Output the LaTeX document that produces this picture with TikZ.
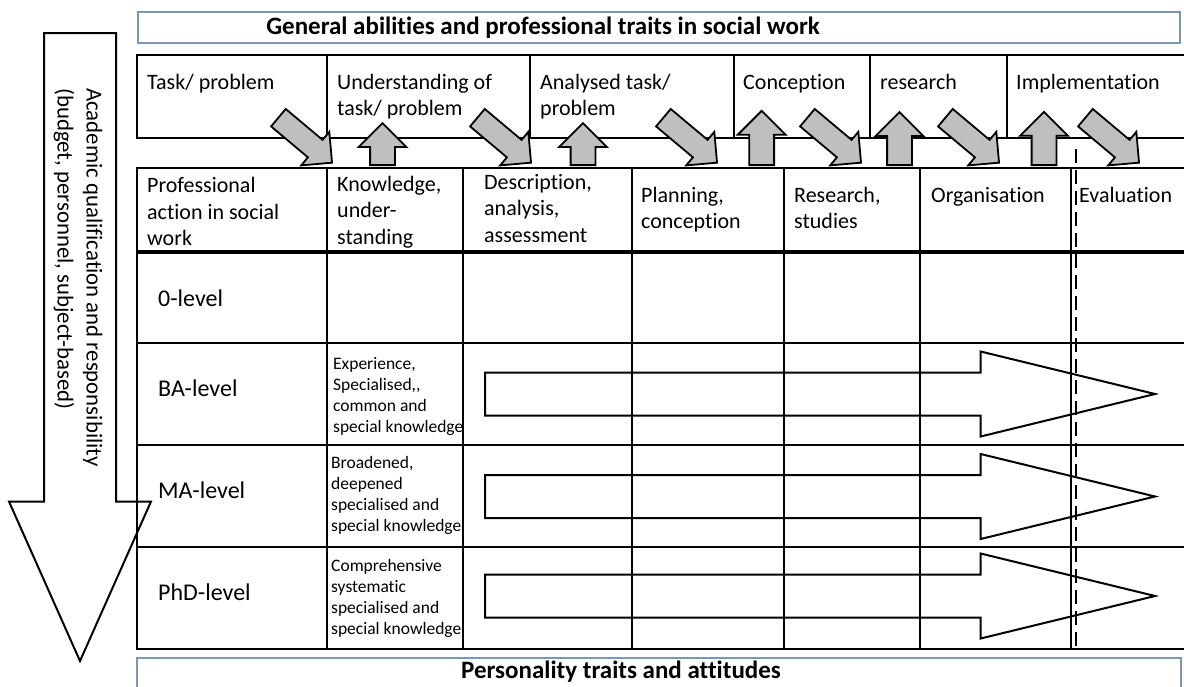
\documentclass[tikz,border=0pt]{standalone}
\usepackage{fontspec}
\setmainfont{Carlito}[Ligatures=NoCommon]
\usepackage{tikz}
\usetikzlibrary{shapes.arrows}
\definecolor{frame}{RGB}{125, 150, 180}
\definecolor{block}{RGB}{191, 191, 191}
\newcommand*{\lw}{2.5}

\begin{document}
\begin{tikzpicture}[
   x=1pt, y=-1pt,
   txt/.style={anchor=west, align=left, inner sep=0, font=\fontsize{22}{26.5}\selectfont},
   smalltxt/.style={anchor=west, align=left, inner sep=0, font=\fontsize{17.5}{21}\selectfont},
   leveltxt/.style={anchor=west, inner sep=0, font=\fontsize{24}{29}\selectfont},
   headtxt/.style={inner sep=0, font=\bfseries\fontsize{25}{30}\selectfont},
   rule/.style={line width=\lw},
   banner/.style={draw=frame, line width=1.2},
   uparr/.style={single arrow, draw, fill=block, line width=1.8, rotate=90,
                 inner xsep=0, inner ysep=11.5, single arrow head extend=11.5, anchor=tail},
   diagarr/.style={single arrow, draw, fill=block, line width=1.8, rotate=-40,
                   inner xsep=0, inner ysep=10.5, single arrow head extend=10.5,
                   minimum height=70, anchor=tip},
   openarr/.style={single arrow, draw, line width=2, inner xsep=0, inner ysep=20.5,
                   single arrow head extend=21, single arrow tip angle=27.4,
                   minimum height=670, anchor=tail},
   bigarr/.style={single arrow, draw, line width=2, rotate=-90, inner xsep=0, inner ysep=35,
                  single arrow head extend=35, single arrow tip angle=48,
                  minimum height=628, anchor=tail}
  ]
  \useasboundingbox (0,0) rectangle (1184,686);

  % Banners
  \draw[banner] (138,12) rectangle (1180,43);
  \draw[banner] (137,658) rectangle (1181,700);
  \node[headtxt] (gen) at (543,28) {General abilities and professional traits in social work};
  \node[headtxt] (pers) at (621,672) {Personality traits and attitudes};

  % Upper row
  \draw[rule] (1186,55) -- (137,55) -- (137,138) -- (1186,138);
  \foreach \x in {327, 530, 734, 870, 1007} {
    \draw[rule] (\x,55) -- (\x,138);
  }

  % Lower table
  \draw[rule] (1186,168) -- (137,168) -- (137,649) -- (1186,649);
  \draw[line width=4] (137,252) -- (1186,252);
  \foreach \y in {343, 445, 547} {
    \draw[rule] (137,\y) -- (1186,\y);
  }
  \foreach \x in {327, 463, 632, 784, 920, 1071} {
    \draw[rule] (\x,168) -- (\x,649);
  }
  \draw[dashed, line width=1.3, dash pattern=on 14 off 7] (1076,149) -- (1076,649);

  % Steps
  \node[txt, anchor=base west] (task) at (147,89) {Task/ problem};
  \node[txt] (under) at (337,96.7) {Understanding of\\task/ problem};
  \node[txt] (anal) at (540,96.7) {Analysed task/\\problem};
  \node[txt, anchor=base west] (conc) at (743,89) {Conception};
  \node[txt, anchor=base west] (res) at (880,89) {research};
  \node[txt, anchor=base west] (impl) at (1016,89) {Implementation};

  % Header
  \node[txt] (prof) at (147,211.5) {Professional\\action in social\\work};
  \node[txt] (know) at (337,212) {Knowledge,\\under-\\standing};
  \node[txt] (desc) at (484,208.5) {Description,\\analysis,\\assessment};
  \node[txt] (plan) at (641,209.5) {Planning,\\conception};
  \node[txt] (stud) at (794,208) {Research,\\studies};
  \node[txt, anchor=base west] (orga) at (931,202) {Organisation};
  \node[txt, anchor=base west] (eval) at (1079,202) {Evaluation};

  % Levels
  \node[leveltxt] (zero) at (158,298) {0-level};
  \node[leveltxt] (ba) at (158,388) {BA-level};
  \node[leveltxt] (ma) at (158,490) {MA-level};
  \node[leveltxt] (phd) at (158,592) {PhD-level};

  \node[smalltxt] (kba) at (333,396.7) {Experience,\\Specialised,{},\\common and\\special knowledge};
  \node[smalltxt] (kma) at (331,495) {Broadened,\\deepened\\specialised and\\special knowledge};
  \node[smalltxt] (kphd) at (331,598.7) {Comprehensive\\systematic\\specialised and\\special knowledge};

  % Gray arrows
  \foreach \x [count=\i] in {333, 532, 718, 862, 1000, 1140} {
    \node[diagarr] (d\i) at (\x,163.5) {};
  }
  \foreach \x/\t [count=\i] in {382.5/124, 583/124, 761.7/111.7, 899.5/113, 1044/112.7} {
    \pgfmathsetmacro{\len}{166-\t}
    \node[uparr, minimum height=\len] (u\i) at (\x,166) {};
  }

  % Open arrows
  \foreach \y [count=\i] in {394, 496.5, 596} {
    \node[openarr] (o\i) at (484,\y) {};
  }

  % Qualification arrow
  \node[bigarr] (qual) at (80,32) {};
  \node[txt, rotate=-90, font=\fontsize{22.8}{29}\selectfont] (acad) at (78,88)
    {Academic qualification and responsibility\\(budget, personnel, subject-based)};

\end{tikzpicture}
\end{document}
